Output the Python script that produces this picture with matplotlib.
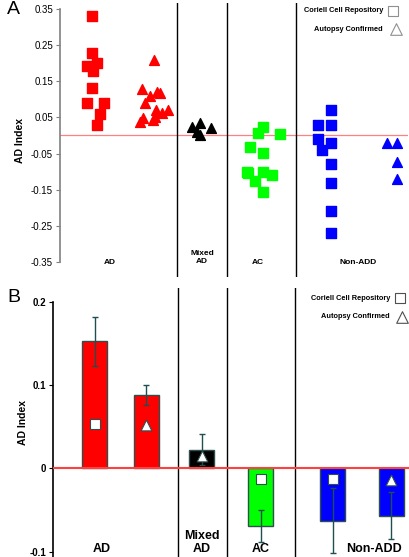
import matplotlib.pyplot as plt

plt.rcParams['font.family'] = ['Liberation Sans', 'DejaVu Sans']

# ---- Panel A: individual AD index values (x = jitter position within plot) ----
ad_sq_x = [31.7, 31.7, 26.7, 36.7, 33.3, 31.7, 26.7, 44, 40, 36.7]
ad_sq_y = [0.331, 0.229, 0.192, 0.199, 0.179, 0.130, 0.090, 0.090, 0.059, 0.029]
ad_tri_x = [94.3, 81.7, 90, 96.7, 100, 85, 96, 108.3, 101.7, 95, 83.3, 80, 93.3]
ad_tri_y = [0.208, 0.127, 0.109, 0.121, 0.116, 0.089, 0.070, 0.070, 0.061, 0.052, 0.047, 0.038, 0.043]
mix_tri_x = [131.7, 140, 150.7, 136.7, 140]
mix_tri_y = [0.024, 0.033, 0.020, 0.010, 0.001]
ac_sq_x = [198.3, 203.3, 220, 190, 203.3, 188.3, 203.3, 211.7, 195, 203.3, 186.7]
ac_sq_y = [0.007, 0.022, 0.003, -0.031, -0.049, -0.105, -0.100, -0.109, -0.125, -0.155, -0.100]
nadd_sq_x = [257.7, 271, 271, 257.7, 262.3, 271, 271, 271, 271, 271]
nadd_sq_y = [0.029, 0.029, 0.070, -0.011, -0.040, -0.020, -0.080, -0.130, -0.209, -0.270]
nadd_tri_x = [326.7, 336.7, 337.3, 337.3]
nadd_tri_y = [-0.022, -0.022, -0.073, -0.121]

group_labels = ['AD', 'Mixed\nAD', 'AC', 'Non-ADD']
a_label_x = [50, 142, 198, 298]
a_sep_x = [117, 167, 236]
a_ticks = [-0.35, -0.25, -0.15, -0.05, 0.05, 0.15, 0.25, 0.35]

# ---- Panel B: group means ----
b_x = [42, 93.5, 149, 208, 280, 338.5]
b_means = [0.1525, 0.0885, 0.0225, -0.069, -0.063, -0.057]
b_err = [0.029, 0.012, 0.019, 0.019, 0.039, 0.028]
b_colors = ['#ff0000', '#ff0000', '#000000', '#00ff00', '#0000ff', '#0000ff']
b_marker = ['s', '^', '^', 's', 's', '^']
b_marker_y = [0.053, 0.052, 0.0145, -0.0134, -0.013, -0.0137]
b_label_x = [49, 149, 208, 321]
b_sep_x = [125, 174, 242]
b_ticks = [-0.1, 0, 0.1, 0.2]

fig = plt.figure(figsize=(4.1, 5.57), dpi=100)

# ---------------- Panel A ----------------
ax = fig.add_axes([60 / 410, 1 - 277 / 557, 348 / 410, (277 - 3.3) / 557])
ax.set_xlim(0, 348)
ax.set_ylim(-0.391, 0.365)
for s in ['top', 'right', 'bottom']:
    ax.spines[s].set_visible(False)
ax.spines['left'].set_bounds(-0.35, 0.35)
ax.spines['left'].set_color('#808080')
ax.spines['left'].set_linewidth(1.2)
ax.set_xticks([])
ax.set_yticks(a_ticks)
ax.set_yticklabels(['%.2f' % t for t in a_ticks], fontsize=7)
ax.tick_params(axis='y', length=3, width=0.8, color='#808080', pad=2)
ax.axhline(0, color='#ff8080', lw=0.9, zorder=1)
for sx in a_sep_x:
    ax.axvline(sx, color='black', lw=1.0)

ms = 50
ax.scatter(ad_sq_x, ad_sq_y, marker='s', s=ms, color='#ff0000', zorder=3)
ax.scatter(ad_tri_x, ad_tri_y, marker='^', s=ms, color='#ff0000', zorder=3)
ax.scatter(mix_tri_x, mix_tri_y, marker='^', s=ms, color='black', zorder=3)
ax.scatter(ac_sq_x, ac_sq_y, marker='s', s=ms, color='#00ff00', zorder=3)
ax.scatter(nadd_sq_x, nadd_sq_y, marker='s', s=ms, color='#0000ff', zorder=3)
ax.scatter(nadd_tri_x, nadd_tri_y, marker='^', s=ms, color='#0000ff', zorder=3)

for lx, lab in zip(a_label_x, group_labels):
    ax.text(lx, -0.35 if '\n' not in lab else -0.338, lab, ha='center', va='center',
            fontsize=6, fontweight='bold')
ax.set_ylabel('AD Index', fontsize=7.5, fontweight='bold', labelpad=4)

ax.text(323, 0.344, 'Coriell Cell Repository', ha='right', va='center', fontsize=5.3, fontweight='bold')
ax.text(323, 0.294, 'Autopsy Confirmed', ha='right', va='center', fontsize=5.3, fontweight='bold')
ax.scatter([333], [0.344], marker='s', s=45, facecolor='white', edgecolor='#909090', lw=0.8)
ax.scatter([336], [0.294], marker='^', s=70, facecolor='white', edgecolor='#909090', lw=0.8)
fig.text(7 / 410, 1 - 10 / 557, 'A', fontsize=14, ha='left', va='center')

# ---------------- Panel B ----------------
bx = fig.add_axes([53 / 410, 0, 357 / 410, 1 - 288 / 557])
bx.set_xlim(0, 357)
bx.set_ylim(-0.1065, 0.2166)
for s in ['top', 'right', 'bottom']:
    bx.spines[s].set_visible(False)
bx.spines['left'].set_bounds(-0.1065, 0.2)
bx.spines['left'].set_linewidth(1.2)
bx.set_xticks([])
bx.set_yticks(b_ticks)
bx.set_yticklabels(['-0.1', '0', '0.1', '0.2'], fontsize=7, fontweight='bold')
bx.tick_params(axis='y', length=3, width=0.8, pad=2)
for sx in b_sep_x:
    bx.axvline(sx, color='black', lw=1.0)

bx.bar(b_x, b_means, width=25, color=b_colors, edgecolor='#2f4f4f', lw=1.0, zorder=2)
bx.errorbar(b_x, b_means, yerr=b_err, fmt='none', ecolor='#1f4f4f', elinewidth=1.0,
            capsize=2, capthick=1.0, zorder=3)
bx.axhline(0, color='#ff4040', lw=1.5, zorder=4)
for mx, my, mk in zip(b_x, b_marker_y, b_marker):
    bx.scatter([mx], [my], marker=mk, s=60 if mk == '^' else 45, facecolor='white',
               edgecolor='#2f4f4f', lw=0.8, zorder=5)

for lx, lab in zip(b_label_x, group_labels):
    bx.text(lx, -0.097 if '\n' not in lab else -0.089, lab, ha='center', va='center',
            fontsize=9, fontweight='bold', linespacing=1.1)
bx.set_ylabel('AD Index', fontsize=7.5, fontweight='bold', labelpad=1)

bx.text(337, 0.204, 'Coriell Cell Repository', ha='right', va='center', fontsize=5.3, fontweight='bold')
bx.text(337, 0.182, 'Autopsy Confirmed', ha='right', va='center', fontsize=5.3, fontweight='bold')
bx.scatter([347], [0.204], marker='s', s=45, facecolor='white', edgecolor='#505050', lw=0.8)
bx.scatter([349], [0.182], marker='^', s=70, facecolor='white', edgecolor='#505050', lw=0.8)
fig.text(7 / 410, 1 - 297 / 557, 'B', fontsize=14, ha='left', va='center')

fig.savefig('out.png', dpi=100)
